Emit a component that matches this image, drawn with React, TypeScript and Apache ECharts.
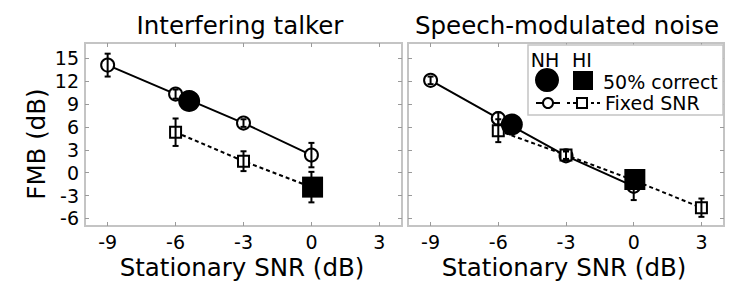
import React, { useEffect, useRef } from "react";
import * as echarts from "echarts";

// ---- data ----
const xTicks = [-9, -6, -3, 0, 3];
const yTicks = [-6, -3, 0, 3, 6, 9, 12, 15];
const panelTitles = ["Interfering talker", "Speech-modulated noise"];
const xAxisTitle = "Stationary SNR (dB)";
const yAxisTitle = "FMB (dB)";

// Interfering talker
const itNHFixed: number[][] = [[-9, 14.1], [-6, 10.3], [-3, 6.5], [0, 2.3]];
const itNHFixedErr = [1.5, 0.6, 0.5, 1.6];
const itHIFixed: number[][] = [[-6, 5.3], [-3, 1.5], [0, -1.9]];
const itHIFixedErr = [1.8, 1.3, 2.0];
const itNH50: number[][] = [[-5.4, 9.4]];
const itHI50: number[][] = [[0.05, -1.9]];

// Speech-modulated noise
const smNHFixed: number[][] = [[-9, 12.1], [-6, 7.1], [-3, 2.2], [0, -1.8]];
const smNHFixedErr = [0.5, 0.8, 0.6, 1.8];
const smHIFixed: number[][] = [[-6, 5.5], [-3, 2.3], [0, -1.0], [3, -4.6]];
const smHIFixedErr = [1.5, 0.5, 1.0, 1.2];
const smNH50: number[][] = [[-5.4, 6.3]];
const smHI50: number[][] = [[0.05, -0.9]];

const FONT = "DejaVu Sans";
const FRAME = "#c4c4c4";
const TICK = "#9a9a9a";

function withErr(pts: number[][], errs: number[]) {
  return pts.map((p, i) => [p[0], p[1], errs[i]]);
}

export default function App() {
  const ref = useRef<HTMLDivElement>(null);
  useEffect(() => {
    if (!ref.current) return;
    const chart = echarts.init(ref.current, null, { renderer: "svg" });

    const grids = [
      { left: 85, top: 43, width: 317, height: 183 },
      { left: 408, top: 43, width: 316, height: 183 },
    ];

    const tickStyle = { color: TICK, width: 1 };
    const xAxes: any[] = [];
    const yAxes: any[] = [];
    grids.forEach((g, gi) => {
      xAxes.push({
        type: "value", gridIndex: gi, min: -10, max: 4, position: "bottom",
        axisLine: { show: false, onZero: false }, splitLine: { show: false },
        axisTick: { show: true, inside: true, length: 4, lineStyle: tickStyle, customValues: xTicks },
        axisLabel: { show: true, margin: 6, fontSize: 19, lineHeight: 19, color: "#000", fontFamily: FONT, customValues: xTicks },
      });
      xAxes.push({
        type: "value", gridIndex: gi, min: -10, max: 4, position: "top",
        axisLine: { show: false, onZero: false }, splitLine: { show: false },
        axisTick: { show: true, inside: true, length: 4, lineStyle: tickStyle, customValues: xTicks },
        axisLabel: { show: false },
      });
      yAxes.push({
        type: "value", gridIndex: gi, min: -7, max: 17, position: "left",
        axisLine: { show: false, onZero: false }, splitLine: { show: false },
        axisTick: { show: true, inside: true, length: 4, lineStyle: tickStyle, customValues: yTicks },
        axisLabel: { show: gi === 0, margin: 6, fontSize: 19, lineHeight: 19, color: "#000", fontFamily: FONT, customValues: yTicks },
      });
      yAxes.push({
        type: "value", gridIndex: gi, min: -7, max: 17, position: "right",
        axisLine: { show: false, onZero: false }, splitLine: { show: false },
        axisTick: { show: true, inside: true, length: 4, lineStyle: tickStyle, customValues: yTicks },
        axisLabel: { show: false },
      });
    });

    const errSeries = (data: number[][], gi: number) => ({
      type: "custom",
      xAxisIndex: gi * 2,
      yAxisIndex: gi * 2,
      z: 4,
      data,
      renderItem: (params: any, api: any) => {
        const x = api.value(0), y = api.value(1), e = api.value(2);
        const t = api.coord([x, y + e]);
        const b = api.coord([x, y - e]);
        const st = { stroke: "#000", lineWidth: 2 };
        return {
          type: "group",
          children: [
            { type: "line", shape: { x1: t[0], y1: t[1], x2: b[0], y2: b[1] }, style: st },
            { type: "line", shape: { x1: t[0] - 3, y1: t[1], x2: t[0] + 3, y2: t[1] }, style: st },
            { type: "line", shape: { x1: b[0] - 3, y1: b[1], x2: b[0] + 3, y2: b[1] }, style: st },
          ],
        };
      },
    });

    const lineSeries = (data: number[][], gi: number, dashed: boolean) => ({
      type: "line",
      xAxisIndex: gi * 2,
      yAxisIndex: gi * 2,
      z: 3,
      data,
      symbol: dashed ? "rect" : "circle",
      symbolSize: dashed ? 11 : 13,
      lineStyle: { color: "#000", width: 2, type: dashed ? [4, 3] : "solid" },
      itemStyle: { color: "#fff", borderColor: "#000", borderWidth: 2, opacity: 1 },
    });

    const bigSeries = (data: number[][], gi: number, sq: boolean) => ({
      type: "scatter",
      xAxisIndex: gi * 2,
      yAxisIndex: gi * 2,
      z: 6,
      data,
      symbol: sq ? "rect" : "circle",
      symbolSize: sq ? 21 : 22,
      itemStyle: { color: "#000", opacity: 1 },
    });

    const series: any[] = [
      lineSeries(itNHFixed, 0, false),
      lineSeries(itHIFixed, 0, true),
      errSeries(withErr(itNHFixed, itNHFixedErr), 0),
      errSeries(withErr(itHIFixed, itHIFixedErr), 0),
      bigSeries(itNH50, 0, false),
      bigSeries(itHI50, 0, true),
      lineSeries(smNHFixed, 1, false),
      lineSeries(smHIFixed, 1, true),
      errSeries(withErr(smNHFixed, smNHFixedErr), 1),
      errSeries(withErr(smHIFixed, smHIFixedErr), 1),
      bigSeries(smNH50, 1, false),
      bigSeries(smHI50, 1, true),
    ];

    const txt = (text: string, x: number, y: number, size: number, extra: any = {}) => ({
      type: "text", x, y, z: 100,
      style: { text, fontSize: size, lineHeight: size, fontFamily: FONT, fill: "#000", align: "center", verticalAlign: "middle", ...extra },
    });

    const graphic: any[] = [
      txt(panelTitles[0], 240, 25, 24.5),
      txt(panelTitles[1], 567, 25, 24.5),
      txt(xAxisTitle, 242, 267, 24.5),
      txt(xAxisTitle, 564, 267, 24.5),
      { ...txt(yAxisTitle, 36, 144, 24.5), rotation: Math.PI / 2 },
      // legend box
      {
        type: "rect", z: 90,
        shape: { x: 528, y: 45, width: 195, height: 70 },
        style: { fill: "#fff", stroke: FRAME, lineWidth: 1.5 },
      },
      txt("NH", 545, 60, 19),
      txt("HI", 582, 60, 19),
      { type: "circle", z: 101, shape: { cx: 547, cy: 80, r: 12 }, style: { fill: "#000" } },
      { type: "rect", z: 101, shape: { x: 573, y: 71, width: 20, height: 19 }, style: { fill: "#000" } },
      txt("50% correct", 603, 82, 19, { align: "left" }),
      { type: "line", z: 101, shape: { x1: 536, y1: 103, x2: 560, y2: 103 }, style: { stroke: "#000", lineWidth: 2 } },
      { type: "circle", z: 102, shape: { cx: 548, cy: 103, r: 5 }, style: { fill: "#fff", stroke: "#000", lineWidth: 2 } },
      { type: "line", z: 101, shape: { x1: 567, y1: 103, x2: 601, y2: 103 }, style: { stroke: "#000", lineWidth: 2, lineDash: [3, 3] } },
      { type: "rect", z: 102, shape: { x: 577, y: 98, width: 10, height: 10 }, style: { fill: "#fff", stroke: "#000", lineWidth: 2 } },
      txt("Fixed SNR", 605, 103, 19, { align: "left" }),
    ];

    chart.setOption({
      animation: false,
      backgroundColor: "#fff",
      grid: grids.map((g) => ({ ...g, show: true, borderColor: FRAME, borderWidth: 2, backgroundColor: "transparent", containLabel: false, outerBoundsMode: "none" })),
      xAxis: xAxes,
      yAxis: yAxes,
      series,
      graphic,
    });

    return () => chart.dispose();
  }, []);

  return <div ref={ref} style={{ width: 740, height: 282, position: "absolute", left: 0, top: 0 }} />;
}
